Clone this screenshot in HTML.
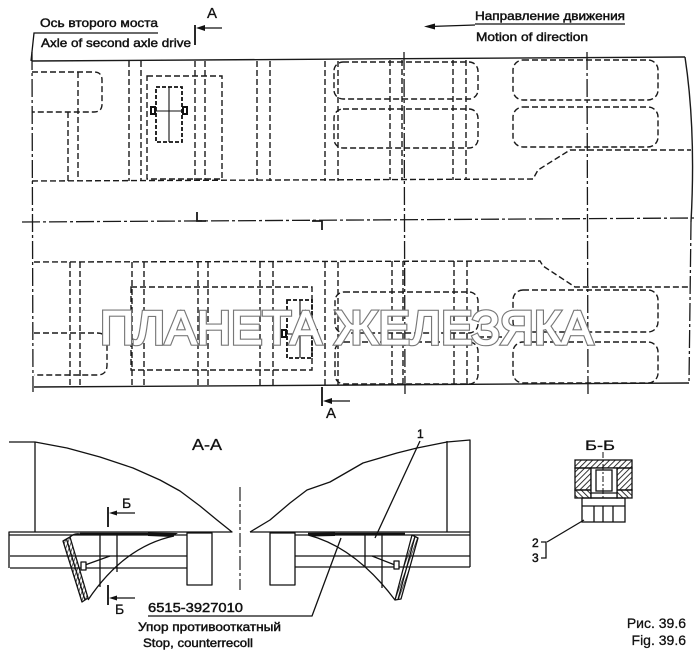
<!DOCTYPE html>
<html><head><meta charset="utf-8"><style>html,body{margin:0;padding:0;background:#fff}svg{display:block}</style></head>
<body>
<svg width="700" height="659" viewBox="0 0 700 659" xmlns="http://www.w3.org/2000/svg" font-family="'Liberation Sans', Arial, sans-serif">
<defs>
<pattern id="h1" width="4" height="4" patternUnits="userSpaceOnUse" patternTransform="rotate(45)"><line x1="0" y1="0" x2="0" y2="4" stroke="#111" stroke-width="1.7"/></pattern>
<pattern id="h2" width="4" height="4" patternUnits="userSpaceOnUse" patternTransform="rotate(-45)"><line x1="0" y1="0" x2="0" y2="4" stroke="#111" stroke-width="1.7"/></pattern>
<pattern id="h3" width="3" height="3" patternUnits="userSpaceOnUse" patternTransform="rotate(20)"><line x1="0" y1="0" x2="0" y2="3" stroke="#111" stroke-width="1.3"/></pattern>
</defs>
<rect width="700" height="659" fill="#fff"/>

<!-- header labels -->
<g fill="#111" stroke="#111" stroke-width="0.45" font-size="12">
<text x="40" y="27" textLength="118" lengthAdjust="spacingAndGlyphs">Ось второго моста</text>
<text x="41" y="47" textLength="150" lengthAdjust="spacingAndGlyphs">Axle of second axle drive</text>
<text x="475" y="20" textLength="150" lengthAdjust="spacingAndGlyphs">Направление движения</text>
<text x="476" y="41" textLength="112" lengthAdjust="spacingAndGlyphs">Motion of direction</text>
<text x="207" y="18" font-size="15" stroke-width="0.3">A</text>
<text x="326" y="418" font-size="15" stroke-width="0.3">A</text>
</g>
<g stroke="#111" stroke-width="1.3" fill="none">
<polyline points="158,33 34,33 31,61"/>
<line x1="475" y1="24" x2="625" y2="24"/>
<line x1="430" y1="26.5" x2="475" y2="25"/>
<line x1="195" y1="25" x2="195" y2="45" stroke-width="1.8"/>
<line x1="200" y1="28" x2="222" y2="28"/>
<line x1="322" y1="387" x2="322" y2="406" stroke-width="1.8"/>
<line x1="327" y1="401" x2="350" y2="401"/>
</g>
<g fill="#111">
<polygon points="424,26.5 435,23.5 435,29.5"/>
<polygon points="196,28 205,25 205,31"/>
<polygon points="323,401 332,398 332,404"/>
</g>

<!-- plan view solid/dash-dot lines -->
<g stroke="#1a1a1a" stroke-width="1.4" fill="none">
<line x1="32" y1="61" x2="685" y2="57"/>
<path d="M685,57 Q696,130 691,222"/>
<line x1="34" y1="387" x2="689" y2="383"/>
<polyline points="197,212 197,221 206,221" stroke-width="1.8"/>
<polyline points="312,221 322,221 322,230" stroke-width="1.8"/>
</g>
<g stroke="#1a1a1a" stroke-width="1.3" fill="none" stroke-dasharray="18 3 3 3">
<line x1="32" y1="52" x2="33" y2="392"/>
<line x1="22" y1="222" x2="695" y2="218"/>
<line x1="404" y1="52" x2="405" y2="395"/>
<line x1="587" y1="52" x2="588" y2="395"/>
<line x1="691" y1="222" x2="689" y2="383"/>
</g>

<!-- dashed -->
<g stroke="#1a1a1a" stroke-width="1.4" fill="none" stroke-dasharray="6 3">
<polyline points="32,181 533,179 538,170 570,150 691,150"/>
<path d="M32,72 H94 Q102,72 102,80 V104 Q102,112 94,112 H32"/>
<line x1="68" y1="112" x2="68" y2="181"/>
<line x1="78" y1="72" x2="78" y2="181"/>
<line x1="129" y1="61" x2="129" y2="181"/><line x1="141" y1="61" x2="141" y2="181"/>
<line x1="195" y1="61" x2="195" y2="181"/><line x1="205" y1="61" x2="205" y2="181"/>
<line x1="257" y1="61" x2="257" y2="181"/><line x1="270" y1="61" x2="270" y2="181"/>
<line x1="325" y1="61" x2="325" y2="181"/><line x1="338" y1="61" x2="338" y2="181"/>
<line x1="390" y1="60" x2="390" y2="180"/><line x1="402" y1="60" x2="402" y2="180"/>
<line x1="453" y1="60" x2="453" y2="180"/><line x1="466" y1="60" x2="466" y2="180"/>
<rect x="147" y="76" width="75" height="103"/>
<rect x="334" y="62" width="144" height="37" rx="9"/>
<rect x="334" y="109" width="144" height="39" rx="9"/>
<rect x="513" y="60" width="145" height="40" rx="10"/>
<rect x="513" y="107" width="145" height="40" rx="10"/>

<polyline points="34,262 540,261 543,266 575,287 690,287"/>
<line x1="70" y1="262" x2="70" y2="386"/><line x1="80" y1="262" x2="80" y2="386"/>
<line x1="132" y1="262" x2="132" y2="386"/><line x1="144" y1="262" x2="144" y2="386"/>
<line x1="198" y1="262" x2="198" y2="386"/><line x1="208" y1="262" x2="208" y2="386"/>
<line x1="260" y1="262" x2="260" y2="386"/><line x1="273" y1="262" x2="273" y2="386"/>
<line x1="325" y1="262" x2="325" y2="386"/><line x1="338" y1="262" x2="338" y2="386"/>
<line x1="392" y1="261" x2="392" y2="385"/><line x1="403" y1="261" x2="403" y2="385"/>
<line x1="454" y1="261" x2="454" y2="385"/><line x1="467" y1="261" x2="467" y2="385"/>
<path d="M34,333 H97 Q107,333 107,343 V365 Q107,375 97,375 H34"/>
<rect x="131" y="287" width="181" height="83"/>
<rect x="335" y="292" width="143" height="41" rx="9"/>
<rect x="335" y="342" width="143" height="42" rx="9"/>
<rect x="513" y="290" width="145" height="42" rx="10"/>
<rect x="513" y="342" width="145" height="41" rx="10"/>
<line x1="478" y1="337" x2="513" y2="337"/>
</g>
<g stroke="#111" stroke-width="1.8" fill="none" stroke-dasharray="4 2">
<rect x="156" y="87" width="26" height="55"/>
<rect x="287" y="300" width="25" height="58"/>
</g>
<g stroke="#111" stroke-width="1.1" fill="none">
<line x1="169" y1="87" x2="169" y2="142"/><line x1="156" y1="111" x2="182" y2="111"/>
<line x1="300" y1="300" x2="300" y2="358"/><line x1="287" y1="334" x2="312" y2="334"/>
</g>
<g fill="#fff" stroke="#111" stroke-width="2">
<rect x="151" y="107" width="4" height="7"/><rect x="183" y="107" width="4" height="7"/>
<rect x="282" y="330" width="4" height="7"/><rect x="313" y="330" width="4" height="7"/>
</g>

<!-- watermark -->
<g font-size="47" font-family="'Liberation Sans', 'DejaVu Sans', sans-serif">
<text x="100" y="344" textLength="493" lengthAdjust="spacingAndGlyphs" fill="#fff" stroke="#777" stroke-width="3.6">ПЛАНЕТА ЖЕЛЕЗЯКА</text>
<text x="100" y="344" textLength="493" lengthAdjust="spacingAndGlyphs" fill="#fff" stroke="#fff" stroke-width="1.3">ПЛАНЕТА ЖЕЛЕЗЯКА</text>
</g>

<!-- Section A-A -->
<g stroke="#111" stroke-width="1.3" fill="none" stroke-linejoin="round">
<!-- left -->
<polyline points="9,442 35,442 67,448 100,457 133,468 160,480 180,491 200,506 217,520 232,532 9,532 9,568"/>
<line x1="35" y1="442" x2="35" y2="532"/>
<line x1="9" y1="535" x2="187" y2="535"/>
<line x1="10" y1="556" x2="187" y2="556"/>
<line x1="10" y1="568" x2="187" y2="568"/>
<rect x="187" y="533" width="25" height="52"/>
<line x1="100" y1="535" x2="100" y2="587"/>
<line x1="117" y1="535" x2="117" y2="572"/>
<path d="M174,536 C145,542 115,560 88,600"/>
<polygon points="63,541 70,537 88,598 82,602" fill="url(#h3)"/>
<line x1="66.5" y1="539" x2="85" y2="600"/>
<path d="M70,537 Q74,533 80,534"/>
<line x1="85" y1="565" x2="110" y2="556"/>
<rect x="81" y="562" width="5" height="8" fill="#fff"/>
<!-- right -->
<polyline points="250,532 270,520 290,503 307,490 330,482 363,463 397,453 417,448 447,442 470,440 470,567"/>
<line x1="250" y1="532" x2="470" y2="532"/>
<line x1="447" y1="441" x2="447" y2="532"/>
<line x1="295" y1="535" x2="470" y2="535"/>
<line x1="295" y1="556" x2="470" y2="556"/>
<line x1="295" y1="567" x2="470" y2="567"/>
<rect x="270" y="533" width="25" height="52"/>
<line x1="365" y1="535" x2="365" y2="567"/>
<line x1="382" y1="535" x2="382" y2="588"/>
<path d="M308,535 C335,542 365,560 395,600"/>
<polygon points="412,535 418,538 401,599 395,600" fill="url(#h3)"/>
<line x1="415" y1="536.5" x2="398" y2="599.5"/>
<line x1="372" y1="556" x2="395" y2="565"/>
<rect x="394" y="561" width="5" height="8" fill="#fff"/>
<!-- leaders -->
<polyline points="148,616 312,616 341,538"/>
<line x1="420" y1="441" x2="375" y2="538"/>
<!-- Б markers -->
<line x1="108" y1="507" x2="108" y2="527" stroke-width="1.8"/>
<line x1="113" y1="513" x2="135" y2="513"/>
<line x1="108" y1="585" x2="108" y2="605" stroke-width="1.8"/>
<line x1="113" y1="598" x2="135" y2="598"/>
</g>
<g fill="#111">
<polygon points="109,513 117,510.5 117,515.5"/>
<polygon points="109,598 117,595.5 117,600.5"/>
</g>
<g stroke="#111" stroke-width="2.6">
<line x1="80" y1="534" x2="150" y2="534"/>
<line x1="308" y1="534" x2="405" y2="534"/>
</g>
<g fill="#111">
<polygon points="148,532.5 178,533 172,537 148,536"/>
<polygon points="308,533 335,532.5 335,536 312,536.5"/>
</g>
<line x1="240" y1="487" x2="240" y2="590" stroke="#222" stroke-width="1.2" stroke-dasharray="14 3 3 3"/>

<!-- Section Б-Б -->
<g stroke="#111" stroke-width="1.3">
<rect x="575" y="460" width="57" height="8" fill="url(#h1)"/>
<rect x="575" y="468" width="16" height="22" fill="url(#h1)"/>
<rect x="617" y="468" width="15" height="22" fill="url(#h1)"/>
<rect x="575" y="490" width="16" height="8" fill="url(#h2)"/>
<rect x="617" y="490" width="15" height="8" fill="url(#h2)"/>
<rect x="591" y="468" width="26" height="30" fill="#fff"/>
<rect x="596" y="470" width="16" height="21" fill="none"/>
<line x1="591" y1="493" x2="617" y2="493"/>
<rect x="582" y="498" width="43" height="24" fill="none"/>
<line x1="582" y1="506" x2="625" y2="506"/>
<line x1="594" y1="506" x2="594" y2="522"/>
<line x1="603" y1="506" x2="603" y2="522"/>
<line x1="613" y1="506" x2="613" y2="522"/>
<line x1="603" y1="452" x2="603" y2="498" stroke-width="1" stroke-dasharray="6 2 2 2"/>
<line x1="584" y1="520" x2="547" y2="542" fill="none"/>
<polyline points="541,542 546,542 546,558 541,558" fill="none"/>
</g>

<!-- lower labels -->
<g fill="#111" stroke="#111" stroke-width="0.45">
<text x="192" y="450" font-size="16" textLength="30" lengthAdjust="spacingAndGlyphs" stroke-width="0.3">А-А</text>
<text x="122" y="508" font-size="14" stroke-width="0.3">Б</text>
<text x="115" y="614" font-size="14" stroke-width="0.3">Б</text>
<text x="148" y="612" font-size="13" textLength="95" lengthAdjust="spacingAndGlyphs">6515-3927010</text>
<text x="138" y="631" font-size="12" textLength="143" lengthAdjust="spacingAndGlyphs">Упор противооткатный</text>
<text x="143" y="647" font-size="12" textLength="110" lengthAdjust="spacingAndGlyphs">Stop, counterrecoll</text>
<text x="417" y="438" font-size="12">1</text>
<text x="585" y="450" font-size="14" textLength="30" lengthAdjust="spacingAndGlyphs" stroke-width="0.3">Б-Б</text>
<text x="532" y="547" font-size="12">2</text>
<text x="532" y="562" font-size="12">3</text>
<text x="686" y="628" font-size="14" text-anchor="end" stroke-width="0.3">Рис. 39.6</text>
<text x="686" y="645" font-size="14" text-anchor="end" stroke-width="0.3">Fig. 39.6</text>
</g>
</svg>
</body></html>
